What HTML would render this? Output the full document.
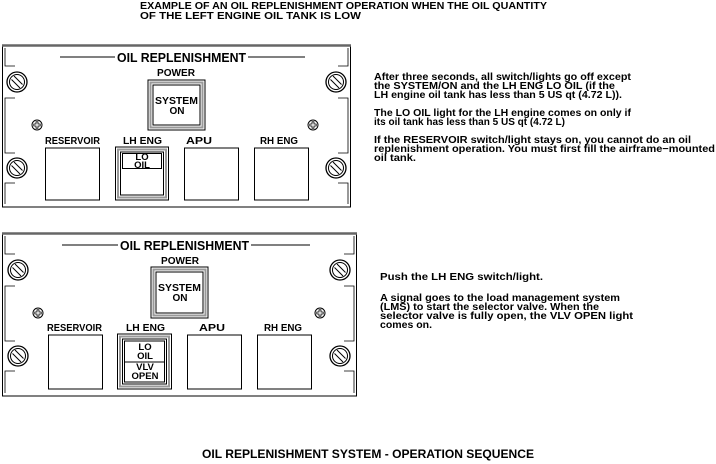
<!DOCTYPE html>
<html><head><meta charset="utf-8"><style>
html,body{margin:0;padding:0;background:#fff;}
svg{display:block;font-family:"Liberation Sans",Arial,sans-serif;font-weight:bold;}
</style></head><body>
<svg width="716" height="464" viewBox="0 0 716 464" xmlns="http://www.w3.org/2000/svg">
<defs>
<g id="screw">
<circle r="10" fill="#fff" stroke="#000" stroke-width="1.3"/>
<circle r="7.5" fill="none" stroke="#000" stroke-width="1"/>
<line x1="-5.5" y1="-2.5" x2="3" y2="6" stroke="#000" stroke-width="1"/>
<line x1="-3" y1="-6" x2="5.5" y2="2.5" stroke="#000" stroke-width="1"/>
</g>
<g id="small">
<circle r="5" fill="#fff" stroke="#000" stroke-width="1"/>
<path d="M-1,-3.2 h2 v2.2 h2.2 v2 h-2.2 v2.2 h-2 v-2.2 h-2.2 v-2 h2.2z" fill="none" stroke="#000" stroke-width="0.8"/>
</g>
</defs>
<g font-size="10">
<text x="140" y="9" textLength="407" lengthAdjust="spacingAndGlyphs">EXAMPLE OF AN OIL REPLENISHMENT OPERATION WHEN THE OIL QUANTITY</text>
<text x="140" y="19" textLength="221" lengthAdjust="spacingAndGlyphs">OF THE LEFT ENGINE OIL TANK IS LOW</text>
</g>

<!-- Panel 1 -->
<g>
<rect x="2.5" y="45" width="348" height="162" fill="#fff" stroke="#000" stroke-width="1"/>
<line x1="2" y1="45.5" x2="351" y2="45.5" stroke="#666" stroke-width="2.5"/>
<path d="M5,48 V66 H15 M15,98 H5 V153 H15 M15,183 H5 V204 M348,48 V66 H338 M338,98 H348 V153 H338 M338,183 H348 V204" fill="none" stroke="#000" stroke-width="0.8"/>
<use href="#screw" x="17" y="82"/><use href="#screw" x="336" y="82"/>
<use href="#screw" x="17" y="168"/><use href="#screw" x="336" y="168"/>
<use href="#small" x="37" y="125"/><use href="#small" x="313" y="125"/>
<line x1="60" y1="57" x2="115" y2="57" stroke="#000"/><line x1="248" y1="57" x2="305" y2="57" stroke="#000"/>
<text x="117" y="62" font-size="12.5" textLength="129" lengthAdjust="spacingAndGlyphs">OIL REPLENISHMENT</text>
<text x="157" y="76" font-size="10" textLength="38" lengthAdjust="spacingAndGlyphs">POWER</text>
<rect x="148" y="80" width="57" height="50" fill="#fff" stroke="#000" stroke-width="1"/>
<rect x="150.5" y="82.5" width="52" height="45" fill="none" stroke="#999" stroke-width="2"/>
<rect x="153" y="85" width="47" height="40" fill="none" stroke="#000" stroke-width="1"/>
<text x="155" y="104" font-size="10" textLength="43" lengthAdjust="spacingAndGlyphs">SYSTEM</text>
<text x="177" y="114" font-size="10" text-anchor="middle">ON</text>
<g font-size="10">
<text x="45" y="144" textLength="55" lengthAdjust="spacingAndGlyphs">RESERVOIR</text>
<text x="123" y="144" textLength="39" lengthAdjust="spacingAndGlyphs">LH ENG</text>
<text x="186" y="144" textLength="26" lengthAdjust="spacingAndGlyphs">APU</text>
<text x="260" y="144" textLength="38" lengthAdjust="spacingAndGlyphs">RH ENG</text>
</g>
<rect x="45.5" y="148" width="54" height="52" fill="none" stroke="#000"/>
<rect x="115.5" y="147" width="53" height="53" fill="none" stroke="#000"/>
<rect x="118" y="149.5" width="48" height="48" fill="none" stroke="#999" stroke-width="2"/>
<rect x="120.5" y="152" width="43" height="43" fill="none" stroke="#000"/>
<rect x="122.5" y="153.5" width="39" height="15" fill="none" stroke="#000"/>
<text x="142" y="160" font-size="9.5" text-anchor="middle">LO</text>
<text x="142" y="168" font-size="9.5" text-anchor="middle">OIL</text>
<rect x="184.5" y="148" width="54" height="52" fill="none" stroke="#000"/>
<rect x="254.5" y="148" width="54" height="52" fill="none" stroke="#000"/>
</g>

<g font-size="10">
<text x="374" y="80" textLength="257" lengthAdjust="spacingAndGlyphs">After three seconds, all switch/lights go off except</text>
<text x="374" y="89" textLength="241" lengthAdjust="spacingAndGlyphs">the SYSTEM/ON and the LH ENG LO OIL (if the</text>
<text x="374" y="98" textLength="248" lengthAdjust="spacingAndGlyphs">LH engine oil tank has less than 5 US qt (4.72 L)).</text>
<text x="374" y="116" textLength="257" lengthAdjust="spacingAndGlyphs">The LO OIL light for the LH engine comes on only if</text>
<text x="374" y="125" textLength="191" lengthAdjust="spacingAndGlyphs">its oil tank has less than 5 US qt (4.72 L)</text>
<text x="374" y="143" textLength="317" lengthAdjust="spacingAndGlyphs">If the RESERVOIR switch/light stays on, you cannot do an oil</text>
<text x="374" y="152" textLength="341" lengthAdjust="spacingAndGlyphs">replenishment operation. You must first fill the airframe−mounted</text>
<text x="374" y="161" textLength="42" lengthAdjust="spacingAndGlyphs">oil tank.</text>
</g>

<!-- Panel 2 -->
<g>
<rect x="2.5" y="233" width="354" height="163" fill="#fff" stroke="#000" stroke-width="1"/>
<line x1="2" y1="233.5" x2="357" y2="233.5" stroke="#666" stroke-width="2.5"/>
<path d="M5,236 V254 H15 M15,286 H5 V341 H15 M15,371 H5 V393 M354,236 V254 H344 M344,286 H354 V341 H344 M344,371 H354 V393" fill="none" stroke="#000" stroke-width="0.8"/>
<use href="#screw" x="18" y="270"/><use href="#screw" x="340" y="270"/>
<use href="#screw" x="18" y="356"/><use href="#screw" x="340" y="356"/>
<use href="#small" x="38" y="313"/><use href="#small" x="320" y="313"/>
<line x1="62" y1="245" x2="118" y2="245" stroke="#000"/><line x1="251" y1="245" x2="310" y2="245" stroke="#000"/>
<text x="120" y="250" font-size="12.5" textLength="129" lengthAdjust="spacingAndGlyphs">OIL REPLENISHMENT</text>
<text x="161" y="264" font-size="10" textLength="38" lengthAdjust="spacingAndGlyphs">POWER</text>
<rect x="151" y="267" width="57" height="51" fill="#fff" stroke="#000" stroke-width="1"/>
<rect x="153.5" y="269.5" width="52" height="46" fill="none" stroke="#999" stroke-width="2"/>
<rect x="156" y="272" width="47" height="41" fill="none" stroke="#000" stroke-width="1"/>
<text x="158" y="291" font-size="10" textLength="43" lengthAdjust="spacingAndGlyphs">SYSTEM</text>
<text x="180" y="301" font-size="10" text-anchor="middle">ON</text>
<g font-size="10">
<text x="47" y="331" textLength="55" lengthAdjust="spacingAndGlyphs">RESERVOIR</text>
<text x="126" y="331" textLength="39" lengthAdjust="spacingAndGlyphs">LH ENG</text>
<text x="199" y="331" textLength="26" lengthAdjust="spacingAndGlyphs">APU</text>
<text x="264" y="331" textLength="38" lengthAdjust="spacingAndGlyphs">RH ENG</text>
</g>
<rect x="48.5" y="335" width="54" height="54" fill="none" stroke="#000"/>
<rect x="117.5" y="334" width="54" height="55" fill="none" stroke="#000"/>
<rect x="120" y="336.5" width="49" height="50" fill="none" stroke="#999" stroke-width="2"/>
<rect x="122.5" y="339" width="44" height="45" fill="none" stroke="#000"/>
<rect x="124.5" y="341" width="40" height="41" fill="none" stroke="#000"/>
<line x1="124.5" y1="362" x2="164.5" y2="362" stroke="#000"/>
<text x="145" y="350" font-size="9.5" text-anchor="middle">LO</text>
<text x="145" y="359" font-size="9.5" text-anchor="middle">OIL</text>
<text x="145" y="370" font-size="9.5" text-anchor="middle">VLV</text>
<text x="145" y="379" font-size="9.5" text-anchor="middle">OPEN</text>
<rect x="187.5" y="335" width="54" height="54" fill="none" stroke="#000"/>
<rect x="257.5" y="335" width="54" height="54" fill="none" stroke="#000"/>
</g>

<g font-size="10">
<text x="380" y="280" textLength="163" lengthAdjust="spacingAndGlyphs">Push the LH ENG switch/light.</text>
<text x="380" y="301" textLength="240" lengthAdjust="spacingAndGlyphs">A signal goes to the load management system</text>
<text x="380" y="310" textLength="219" lengthAdjust="spacingAndGlyphs">(LMS) to start the selector valve. When the</text>
<text x="380" y="319" textLength="253" lengthAdjust="spacingAndGlyphs">selector valve is fully open, the VLV OPEN light</text>
<text x="380" y="328" textLength="52" lengthAdjust="spacingAndGlyphs">comes on.</text>
</g>

<text x="202" y="458" font-size="11.5" textLength="332" lengthAdjust="spacingAndGlyphs">OIL REPLENISHMENT SYSTEM - OPERATION SEQUENCE</text>
</svg>
</body></html>
